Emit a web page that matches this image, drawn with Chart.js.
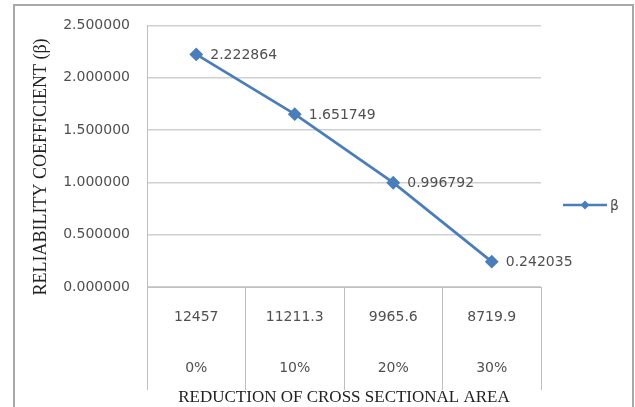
<!DOCTYPE html>
<html>
<head>
<meta charset="utf-8">
<script src="https://cdn.jsdelivr.net/npm/chart.js@4"></script>
<style>
  html, body { margin: 0; padding: 0; background: #fff; }
  canvas { display: block; }
</style>
</head>
<body>
<canvas id="c" width="635" height="407"></canvas>
<script>
// ---- data ----
const areas = ['12457', '11211.3', '9965.6', '8719.9'];
const reductions = ['0%', '10%', '20%', '30%'];
const beta = [2.222864, 1.651749, 0.996792, 0.242035];
const seriesName = 'β';
const yMin = 0, yMax = 2.5, yStep = 0.5;
const xTitle = 'REDUCTION OF CROSS SECTIONAL AREA';
const yTitle = 'RELIABILITY COEFFICIENT (β)';

const labels = areas.map((a, i) => [a, '', reductions[i]]);
const blue = '#4a7ebb';
const tickFont = { family: 'DejaVu Sans', size: 14, lineHeight: 25.5 / 14 };
const textColor = '#505050';

const framePlugin = {
  id: 'frame',
  beforeDraw(chart) {
    const ctx = chart.ctx;
    ctx.save();
    ctx.fillStyle = '#fff';
    ctx.fillRect(0, 0, chart.width, chart.height);
    ctx.strokeStyle = '#a8a8a8';
    ctx.lineWidth = 2;
    ctx.beginPath();
    ctx.moveTo(14, 420);
    ctx.lineTo(14, 5);
    ctx.lineTo(633, 5);
    ctx.lineTo(633, 420);
    ctx.stroke();
    ctx.restore();
  }
};

const decorPlugin = {
  id: 'decor',
  afterDatasetsDraw(chart) {
    const ctx = chart.ctx;
    const ds = chart.data.datasets[0];
    const meta = chart.getDatasetMeta(0);
    ctx.save();
    ctx.font = '14px "DejaVu Sans"';
    ctx.fillStyle = textColor;
    ctx.textAlign = 'left';
    ctx.textBaseline = 'middle';
    meta.data.forEach((pt, i) => {
      ctx.fillText(ds.data[i].toFixed(6), pt.x + 14, pt.y + 1);
    });
    ctx.restore();
  },
  afterDraw(chart) {
    const ctx = chart.ctx;
    ctx.save();
    // y-axis title
    ctx.translate(41, 167);
    ctx.rotate(-Math.PI / 2);
    ctx.font = '18px "Liberation Serif"';
    ctx.fillStyle = '#222';
    ctx.textAlign = 'center';
    ctx.textBaseline = 'middle';
    ctx.fillText(yTitle, 0, 0);
    ctx.restore();
    // legend
    const ds = chart.data.datasets[0];
    ctx.save();
    ctx.strokeStyle = ds.borderColor;
    ctx.lineWidth = 2.5;
    ctx.beginPath();
    ctx.moveTo(563, 205);
    ctx.lineTo(607, 205);
    ctx.stroke();
    ctx.fillStyle = ds.borderColor;
    ctx.beginPath();
    ctx.moveTo(585, 200.5);
    ctx.lineTo(589.5, 205);
    ctx.lineTo(585, 209.5);
    ctx.lineTo(580.5, 205);
    ctx.closePath();
    ctx.fill();
    ctx.font = '14px "DejaVu Sans"';
    ctx.fillStyle = textColor;
    ctx.textAlign = 'left';
    ctx.textBaseline = 'middle';
    ctx.fillText(ds.label, 610, 206);
    ctx.restore();
  }
};

new Chart(document.getElementById('c'), {
  type: 'line',
  data: {
    labels: labels,
    datasets: [{
      label: seriesName,
      data: beta,
      borderColor: blue,
      backgroundColor: blue,
      borderWidth: 2.75,
      pointStyle: 'rectRot',
      pointRadius: 5,
      pointHoverRadius: 5,
      pointBackgroundColor: blue,
      pointBorderColor: blue,
      tension: 0,
      fill: false
    }]
  },
  options: {
    responsive: false,
    devicePixelRatio: 1,
    animation: false,
    events: [],
    layout: { padding: { left: 14, top: 24, right: 94, bottom: 0 } },
    plugins: {
      legend: { display: false },
      tooltip: { enabled: false },
      title: { display: false }
    },
    scales: {
      x: {
        type: 'category',
        offset: true,
        afterFit(scale) { scale.height = 120; },
        grid: {
          display: true,
          offset: true,
          drawOnChartArea: false,
          drawTicks: true,
          tickLength: 103,
          color: '#bfbfbf',
          lineWidth: 1
        },
        border: { display: true, color: '#bfbfbf', width: 1 },
        ticks: {
          autoSkip: false,
          maxRotation: 0,
          minRotation: 0,
          padding: -85.75,
          color: textColor,
          font: tickFont
        },
        title: {
          display: true,
          text: xTitle,
          color: '#222',
          font: { family: 'Liberation Serif', size: 17, lineHeight: 1.1 },
          padding: { top: 0, bottom: 0 }
        }
      },
      y: {
        min: yMin,
        max: yMax,
        afterFit(scale) { scale.width = 133; },
        ticks: {
          stepSize: yStep,
          padding: 17,
          color: textColor,
          font: { family: 'DejaVu Sans', size: 14 },
          callback: (v) => Number(v).toFixed(6)
        },
        grid: {
          color: '#d0d0d0',
          lineWidth: 1.5,
          drawTicks: false
        },
        border: { display: true, color: '#bfbfbf', width: 1 }
      }
    }
  },
  plugins: [framePlugin, decorPlugin]
});
</script>
</body>
</html>
